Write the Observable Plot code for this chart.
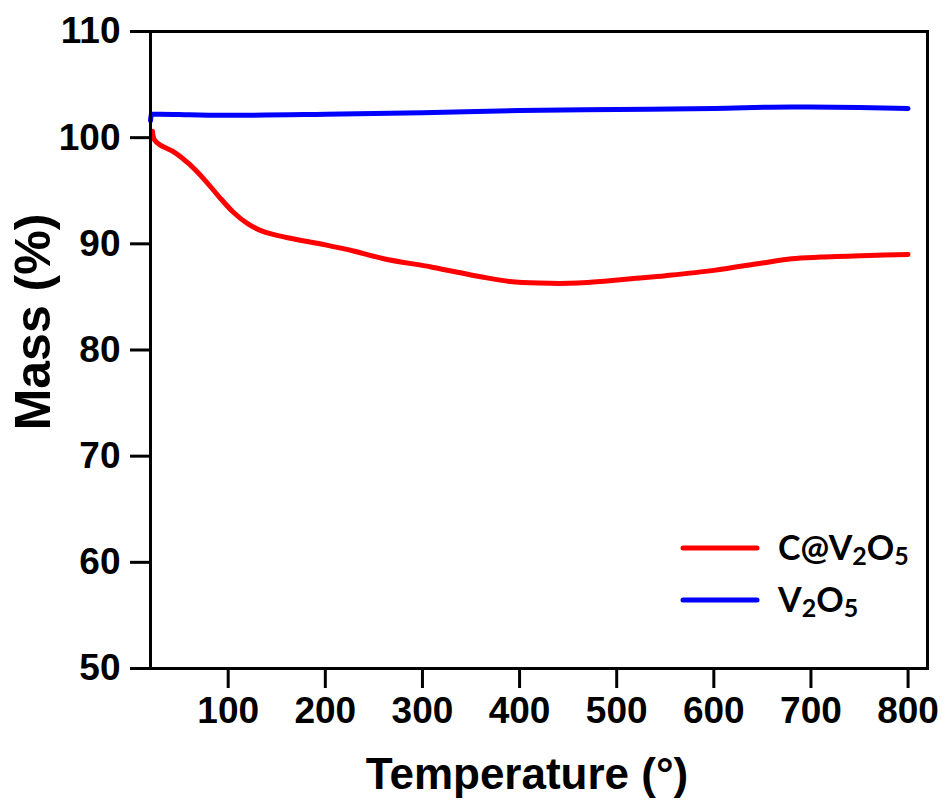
<!DOCTYPE html>
<html>
<head>
<meta charset="utf-8">
<script src="https://cdn.jsdelivr.net/npm/d3@7"></script>
<script src="https://cdn.jsdelivr.net/npm/@observablehq/plot@0.6"></script>
<style>
  html, body { margin: 0; padding: 0; background: #fff; }
  #chart svg { font-weight: bold; }
</style>
</head>
<body>
<div id="chart"></div>
<script>
// Data
const redT = [22, 24, 30, 45, 60, 75, 90, 105, 120, 135, 160, 200, 230, 260, 310, 360, 390, 420, 460, 490, 520, 550, 600, 650, 680, 710, 760, 800];
const redM = [100.6, 99.8, 99.3, 98.6, 97.5, 96.1, 94.5, 93.0, 91.9, 91.2, 90.6, 89.9, 89.3, 88.6, 87.8, 86.9, 86.45, 86.3, 86.3, 86.5, 86.75, 87.0, 87.5, 88.2, 88.6, 88.75, 88.9, 89.0];
const blueT = [20, 21, 30, 60, 100, 200, 300, 400, 500, 600, 680, 750, 800];
const blueM = [101.6, 102.2, 102.2, 102.15, 102.1, 102.2, 102.35, 102.55, 102.65, 102.75, 102.9, 102.85, 102.75];
const xTicks = [100, 200, 300, 400, 500, 600, 700, 800];
const yTicks = [50, 60, 70, 80, 90, 100, 110];
const seriesColors = ["#ff0000", "#0000ff"];

const red = redT.map((t, i) => ({T: t, M: redM[i]}));
const blue = blueT.map((t, i) => ({T: t, M: blueM[i]}));

const chart = Plot.plot({
  width: 943,
  height: 805,
  marginLeft: 150,
  marginRight: 16,
  marginTop: 31,
  marginBottom: 137,
  style: {fontFamily: "'Liberation Sans', Arial, sans-serif", background: "#fff", color: "#000"},
  x: {domain: [20, 820]},
  y: {domain: [50, 110]},
  marks: [
    Plot.line(blue, {x: "T", y: "M", stroke: seriesColors[1], strokeWidth: 5, curve: "monotone-x", strokeLinecap: "round"}),
    Plot.line(red, {x: "T", y: "M", stroke: seriesColors[0], strokeWidth: 5, curve: "catmull-rom", strokeLinecap: "round"}),
    Plot.frame({stroke: "#000", strokeWidth: 3}),
    Plot.axisX({ticks: xTicks, tickSize: 20, tickPadding: 8, strokeWidth: 3, fontSize: 37, label: null, tickFormat: d => String(d)}),
    Plot.axisY({ticks: yTicks, tickSize: 20, tickPadding: 10, strokeWidth: 3, fontSize: 37, label: null, tickFormat: d => String(d)}),
    Plot.text(["Temperature (°)"], {frameAnchor: "bottom", dy: 106, dx: -12, fontSize: 44, fontWeight: "bold", lineAnchor: "middle", textAnchor: "middle"}),
    Plot.text(["Mass (%)"], {frameAnchor: "left", dx: -117, dy: -28, rotate: -90, fontSize: 50, fontWeight: "bold", lineAnchor: "middle", textAnchor: "middle"})
  ]
});
document.getElementById("chart").appendChild(chart);

// Legend inside the plot, lower right
const svg = d3.select(chart);
const lg = svg.append("g").attr("class", "legend");
const entries = [
  {parts: [["C@V", 0], ["2", 1], ["O", 0], ["5", 1]], color: seriesColors[0], y: 548},
  {parts: [["V", 0], ["2", 1], ["O", 0], ["5", 1]], color: seriesColors[1], y: 600}
];
entries.forEach(e => {
  lg.append("line").attr("x1", 683).attr("x2", 757).attr("y1", e.y).attr("y2", e.y)
    .attr("stroke", e.color).attr("stroke-width", 5).attr("stroke-linecap", "round");
  const t = lg.append("text").attr("x", 778).attr("y", e.y + 12)
    .attr("text-anchor", "start")
    .attr("font-family", "Lato, 'Open Sans', sans-serif").attr("font-weight", "bold")
    .attr("font-size", 34).attr("fill", "#000");
  let shifted = false;
  e.parts.forEach(([s, sub]) => {
    const ts = t.append("tspan").text(s);
    if (sub && !shifted) { ts.attr("font-size", 25).attr("dy", 5); shifted = true; }
    else if (!sub && shifted) { ts.attr("dy", -5); shifted = false; }
    else if (sub) ts.attr("font-size", 25);
  });
});
</script>
</body>
</html>
